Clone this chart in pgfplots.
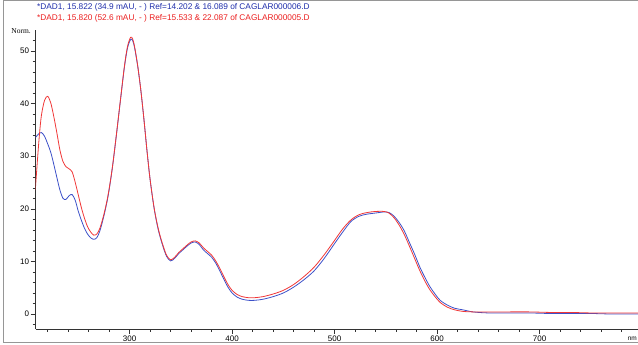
\documentclass[border=0pt]{standalone}
\usepackage{pgfplots}
\pgfplotsset{compat=1.18}
\usepackage{fontspec}
\setmainfont{Liberation Sans}
\newfontfamily\seriffont{Liberation Serif}
\definecolor{cblue}{RGB}{60,80,200}
\definecolor{cred}{RGB}{240,55,55}
\definecolor{tblue}{RGB}{30,45,170}
\definecolor{tred}{RGB}{235,30,30}
\definecolor{frame}{RGB}{150,150,150}
\begin{document}
\begin{tikzpicture}
\useasboundingbox (0pt,0pt) rectangle (638pt,345pt);
\draw[frame,line width=0.8pt] (3pt,2.5pt) -- (3pt,344.5pt) -- (640pt,344.5pt);
\draw[frame,line width=0.8pt] (3pt,2.5pt) -- (640pt,2.5pt);
\node[anchor=west,font=\fontsize{8.3}{9}\selectfont,text=tblue,inner sep=0pt] at (37pt,338pt) {*DAD1, 15.822 (34.9 mAU, - ) Ref=14.202 \& 16.089 of CAGLAR000006.D};
\node[anchor=west,font=\fontsize{8.3}{9}\selectfont,text=tred,inner sep=0pt] at (37pt,327pt) {*DAD1, 15.820 (52.6 mAU, - ) Ref=15.533 \& 22.087 of CAGLAR000005.D};
\node[anchor=east,font=\seriffont\fontsize{7.5}{8}\selectfont,inner sep=0pt] at (31pt,314pt) {Norm.};
\node[anchor=east,font=\fontsize{6.5}{7}\selectfont,inner sep=0pt] at (637pt,6.5pt) {nm};
\begin{axis}[
  at={(35.7pt,16pt)}, anchor=south west,
  scale only axis, width=602.3pt, height=299pt,
  xmin=208.4, xmax=796, ymin=-2.85, ymax=54,
  axis lines=left, axis line style={draw=black!80,-},
  xtick={300,400,500,600,700}, minor xtick={220,240,...,780},
  ytick={0,10,20,30,40,50}, minor ytick={-2,2,4,...,52},
  tick align=outside, major tick length=5pt, minor tick length=3pt,
  tick style={black!80, line width=0.5pt},
  ticklabel style={font=\fontsize{8}{9}\selectfont, inner sep=1.5pt},
  /pgf/number format/assume math mode=true,
  clip=true,
]
\addplot[cblue, line width=0.8pt, smooth] coordinates {
(208,33.5)(211,34.2)(214,34.5)(217,33.8)(220,32.4)(223,30.8)(226,28.5)(229,26.0)(232,23.6)(235,22.0)(238,21.8)(241,22.5)(244,22.7)(247,21.6)(250,19.5)(253,17.8)(256,16.3)(259,15.2)(262,14.5)(265,14.2)(268,14.5)(271,15.8)(275,18.7)(279,22.4)(283,27.5)(287,33.8)(291,40.5)(295,47.0)(298,50.6)(301,52.2)(303,52.0)(305,50.5)(308,47.0)(311,42.5)(314,37.0)(317,31.0)(320,25.6)(324,20.0)(328,16.0)(332,13.2)(336,11.0)(340,10.1)(344,10.6)(348,11.5)(352,12.2)(356,12.9)(360,13.5)(364,13.7)(368,13.2)(372,12.2)(376,11.5)(380,10.8)(384,9.7)(388,8.2)(392,6.6)(396,5.1)(400,4.0)(405,3.2)(410,2.8)(416,2.6)(422,2.6)(430,2.8)(440,3.3)(450,4.0)(460,5.1)(470,6.5)(480,8.2)(490,10.6)(500,13.4)(508,15.6)(516,17.6)(524,18.6)(532,19.0)(540,19.2)(548,19.4)(553,19.3)(558,18.6)(563,17.4)(568,15.8)(573,13.6)(578,11.4)(583,9.0)(588,7.0)(593,5.2)(598,3.8)(603,2.6)(610,1.7)(617,1.1)(625,0.8)(635,0.4)(650,0.2)(670,0.2)(690,0.2)(710,0.1)(730,0.1)(750,0.1)(770,0.0)(796,0.0)
};
\addplot[cred, line width=0.8pt, smooth] coordinates {
(208,23.5)(210,29.0)(212,34.0)(214,37.8)(217,40.6)(220,41.4)(223,40.2)(226,37.6)(229,34.5)(232,31.2)(235,29.0)(238,28.0)(241,27.6)(244,27.0)(247,25.0)(250,22.6)(253,20.2)(256,18.2)(259,16.6)(262,15.6)(265,15.0)(268,15.2)(271,16.3)(275,19.0)(279,22.6)(283,27.6)(287,33.9)(291,40.6)(295,47.2)(298,50.9)(301,52.6)(303,52.3)(305,50.7)(308,47.1)(311,42.5)(314,37.0)(317,31.0)(320,25.6)(324,20.1)(328,16.2)(332,13.4)(336,11.2)(340,10.3)(344,10.8)(348,11.7)(352,12.4)(356,13.1)(360,13.7)(364,13.9)(368,13.5)(372,12.6)(376,11.9)(380,11.2)(384,10.1)(388,8.7)(392,7.1)(396,5.6)(400,4.5)(405,3.7)(410,3.3)(416,3.1)(422,3.1)(430,3.3)(440,3.8)(450,4.5)(460,5.6)(470,7.1)(480,8.9)(490,11.3)(500,14.0)(508,16.2)(516,17.9)(524,18.9)(532,19.3)(540,19.5)(548,19.5)(553,19.2)(558,18.3)(563,16.9)(568,15.1)(573,12.9)(578,10.6)(583,8.3)(588,6.3)(593,4.6)(598,3.3)(603,2.2)(610,1.3)(617,0.8)(625,0.5)(635,0.4)(650,0.4)(670,0.4)(690,0.4)(710,0.3)(730,0.3)(750,0.2)(770,0.2)(796,0.2)
};
\end{axis}
\end{tikzpicture}
\end{document}
